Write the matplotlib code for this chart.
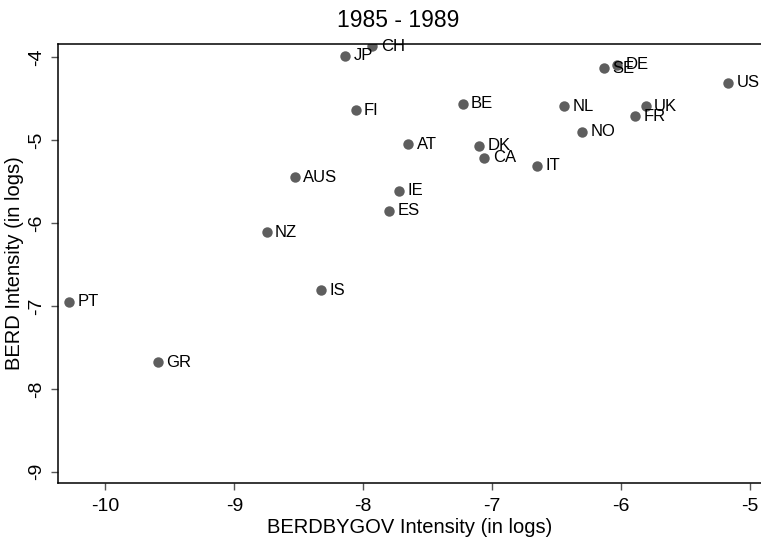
import matplotlib
matplotlib.use("Agg")
import matplotlib.pyplot as plt

plt.rcParams['font.family'] = ['Liberation Sans', 'DejaVu Sans']

countries = ["CH", "JP", "SE", "DE", "US", "NL", "UK", "FR", "NO", "BE", "FI",
             "AT", "DK", "CA", "IT", "AUS", "IE", "ES", "NZ", "IS", "PT", "GR"]
berdbygov = [-7.93, -8.14, -6.13, -6.03, -5.17, -6.44, -5.81, -5.89, -6.30, -7.23, -8.06,
             -7.65, -7.10, -7.06, -6.65, -8.53, -7.72, -7.80, -8.75, -8.33, -10.28, -9.59]
berd = [-3.87, -3.98, -4.13, -4.09, -4.31, -4.59, -4.59, -4.71, -4.90, -4.56, -4.64,
        -5.05, -5.07, -5.21, -5.31, -5.45, -5.61, -5.85, -6.11, -6.81, -6.95, -7.68]

xticks = [-10, -9, -8, -7, -6, -5]
yticks = [-4, -5, -6, -7, -8, -9]


def main():
    fig = plt.figure(figsize=(7.61, 5.39), dpi=100)
    ax = fig.add_axes([0.0762, 0.1039, 1 - 0.0762, 0.8145])

    ax.plot(berdbygov, berd, 'o', color='#5e5e5e', markersize=7.5, markeredgewidth=0)
    for name, x, y in zip(countries, berdbygov, berd):
        ax.annotate(name, (x, y), xytext=(6, 0), textcoords='offset points',
                    va='center', ha='left', fontsize=12, color='black')

    ax.set_xlim(-10.368, -4.915)
    ax.set_ylim(-9.136, -3.84)
    ax.set_xticks(xticks)
    ax.set_yticks(yticks)
    ax.set_xticklabels([str(t) for t in xticks], fontsize=14)
    ax.set_yticklabels([str(t) for t in yticks], fontsize=14, rotation=90, va='center')
    ax.tick_params(direction='out', length=5, width=1, color='#555555')
    ax.tick_params(axis='x', pad=6)
    ax.tick_params(axis='y', pad=4)

    ax.spines['right'].set_visible(False)
    for s in ['left', 'top', 'bottom']:
        ax.spines[s].set_linewidth(1.1)

    ax.set_xlabel("BERDBYGOV Intensity (in logs)", fontsize=14.5, labelpad=2)
    ax.set_ylabel("BERD Intensity (in logs)", fontsize=14.5, labelpad=3)
    ax.set_title("1985 - 1989", fontsize=16.5, pad=12, x=0.4836)

    fig.savefig("out.png", dpi=100)


main()
